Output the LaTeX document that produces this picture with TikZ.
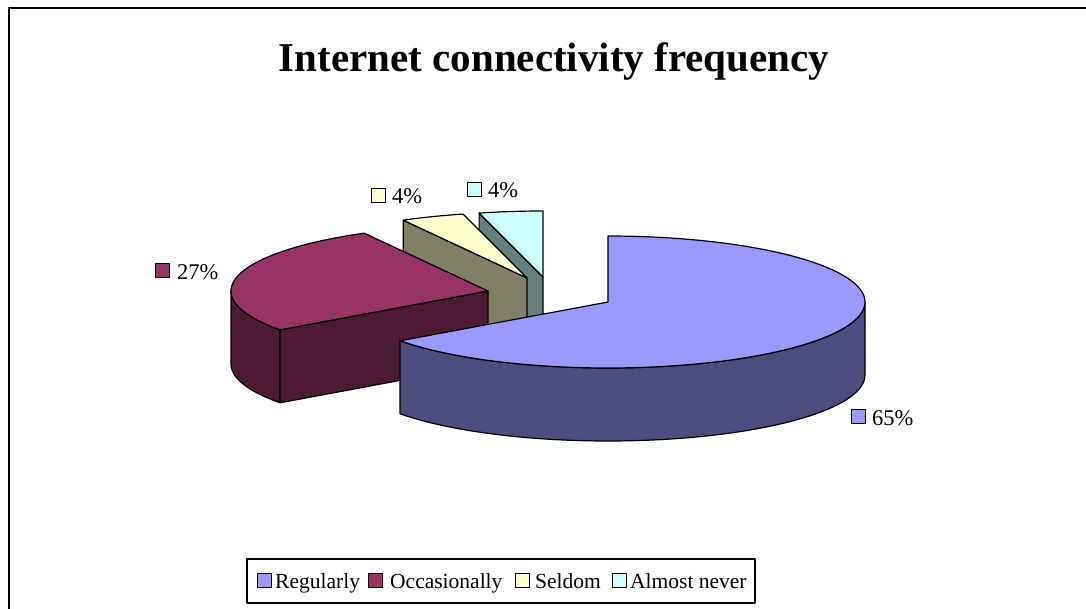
\documentclass[tikz,border=0pt]{standalone}
\usepackage{fontspec}
\setmainfont{Liberation Serif}
\definecolor{blueTop}{HTML}{9999FF}
\definecolor{blueSide}{HTML}{4D4D80}
\definecolor{maroonTop}{HTML}{993366}
\definecolor{maroonSide}{HTML}{4D1A33}
\definecolor{yellowTop}{HTML}{FFFFCC}
\definecolor{seldomSide}{HTML}{808066}
\definecolor{cyanTop}{HTML}{CCFFFF}
\definecolor{cyanSide}{HTML}{668080}
\begin{document}
\begin{tikzpicture}[x=1pt,y=-1pt,line join=round,
  face/.style={draw=black,line width=1.2pt},
  lbl/.style={font=\fontsize{21.5}{24}\selectfont,anchor=base west,inner sep=0pt},
  dlbl/.style={font=\fontsize{22.5}{25}\selectfont,anchor=base west,inner sep=0pt},
  keybox/.style={draw=black,line width=1pt,minimum size=14pt,inner sep=0pt}]
\useasboundingbox (0,0) rectangle (1086,608);
\fill[white] (0,0) rectangle (1086,608);
\draw[line width=2pt] (9,612) -- (9,8) -- (1090,8);
% title
\node[font=\fontsize{41}{48}\selectfont\bfseries,anchor=base,inner sep=0pt] (title) at (554,71) {Internet connectivity frequency};
% Almost never slice
\filldraw[face,fill=cyanSide] (543,277) -- ({543+257*cos(104.4)},{277-66*sin(104.4)}) -- ++(0,73) -- (543,350) -- cycle;
\filldraw[face,fill=cyanTop] (543,277) -- plot[domain=90:104.4,samples=10] ({543+257*cos(\x)},{277-66*sin(\x)}) -- cycle;
% Seldom slice
\filldraw[face,fill=seldomSide] (527,278) -- ({527+257*cos(118.8)},{278-66*sin(118.8)}) -- ++(0,73) -- (527,351) -- cycle;
\filldraw[face,fill=yellowTop] (527,278) -- plot[domain=104.4:118.8,samples=10] ({527+257*cos(\x)},{278-66*sin(\x)}) -- cycle;
% Occasionally slice
\filldraw[face,fill=maroonSide] plot[domain=180:216,samples=20] ({488+257*cos(\x)},{291-66*sin(\x)}) -- plot[domain=216:180,samples=20] ({488+257*cos(\x)},{364-66*sin(\x)}) -- cycle;
\filldraw[face,fill=maroonSide] (488,291) -- ({488+257*cos(216)},{291-66*sin(216)}) -- ++(0,73) -- (488,364) -- cycle;
\filldraw[face,fill=maroonTop] (488,291) -- plot[domain=118.8:216,samples=40] ({488+257*cos(\x)},{291-66*sin(\x)}) -- cycle;
% Regularly slice
\filldraw[face,fill=blueSide] plot[domain=216:360,samples=60] ({608+257*cos(\x)},{302-66*sin(\x)}) -- plot[domain=360:216,samples=60] ({608+257*cos(\x)},{375-66*sin(\x)}) -- cycle;
\filldraw[face,fill=blueTop] (608,302) -- plot[domain=90:-144,samples=90] ({608+257*cos(\x)},{302-66*sin(\x)}) -- cycle;
% data labels
\node[keybox,fill=maroonTop] (k27) at (162.5,270.5) {};
\node[dlbl] (t27) at (177,279) {27\%};
\node[keybox,fill=yellowTop] (k4a) at (378.5,195.5) {};
\node[dlbl] (t4a) at (392,203) {4\%};
\node[keybox,fill=cyanTop] (k4b) at (474.5,189) {};
\node[dlbl] (t4b) at (488,197) {4\%};
\node[keybox,fill=blueTop] (k65) at (858.5,416.5) {};
\node[dlbl] (t65) at (872,425) {65\%};
% legend
\node[draw=black,line width=1.2pt,minimum width=508pt,minimum height=44pt,inner sep=0pt] (legend) at (501,581) {};
\node[keybox,fill=blueTop] (lk1) at (264.5,580.5) {};
\node[lbl] (lt1) at (275,588) {Regularly};
\node[keybox,fill=maroonTop] (lk2) at (375.5,580.5) {};
\node[lbl] (lt2) at (390,588) {Occasionally};
\node[keybox,fill=yellowTop] (lk3) at (522.5,580.5) {};
\node[lbl] (lt3) at (535,588) {Seldom};
\node[keybox,fill=cyanTop] (lk4) at (619.5,580.5) {};
\node[lbl] (lt4) at (630,588) {Almost never};
\end{tikzpicture}
\end{document}
